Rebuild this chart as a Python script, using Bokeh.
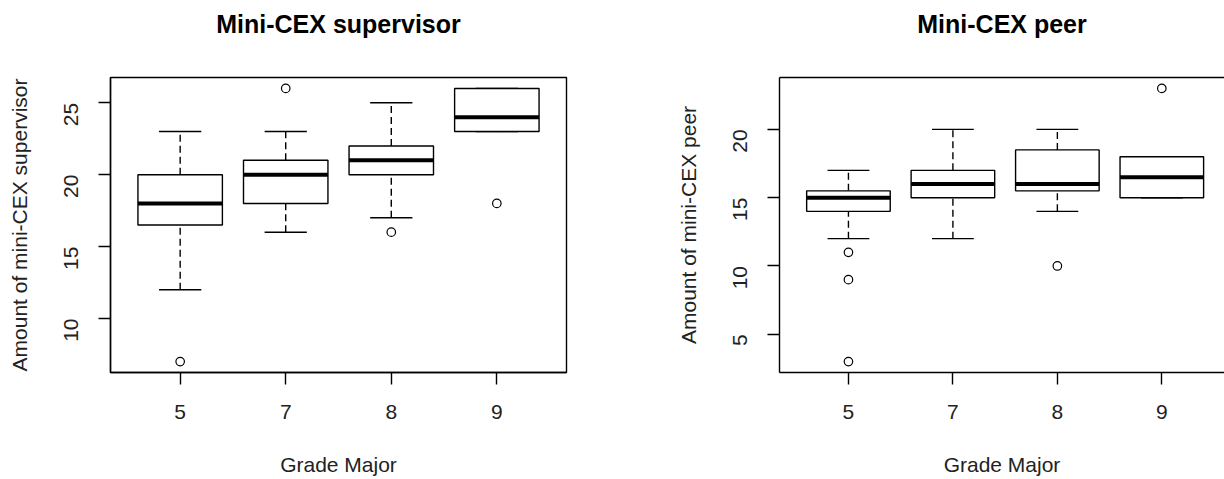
import math
from bokeh.plotting import figure
from bokeh.layouts import row
from bokeh.models import Range1d, FixedTicker, LinearAxis, ColumnDataSource
from bokeh.embed import file_html
from bokeh.resources import INLINE

# ---- data ----
grades = ["5", "7", "8", "9"]

sup_lo = [12, 16, 17, 23]
sup_q1 = [16.5, 18, 20, 23]
sup_med = [18, 20, 21, 24]
sup_q3 = [20, 21, 22, 26]
sup_hi = [23, 23, 25, 26]
sup_out_grade = ["5", "7", "8", "9"]
sup_out_val = [7, 26, 16, 18]

peer_lo = [12, 12, 14, 15]
peer_q1 = [14, 15, 15.5, 15]
peer_med = [15, 16, 16, 16.5]
peer_q3 = [15.5, 17, 18.5, 18]
peer_hi = [17, 20, 20, 18]
peer_out_grade = ["5", "5", "5", "8", "9"]
peer_out_val = [11, 9, 3, 10, 23]

sup_ticks = [10, 15, 20, 25]
peer_ticks = [5, 10, 15, 20]

FONT = "Liberation Sans"
BOXW = 0.8
CAPW = 0.4
LW = 1.4


def style_axis(ax, labels_vertical=False):
    ax.major_tick_out = 12
    ax.major_tick_in = 0
    ax.minor_tick_out = 0
    ax.minor_tick_in = 0
    ax.major_tick_line_color = "black"
    ax.major_tick_line_width = LW
    ax.axis_line_color = "black"
    ax.axis_line_width = LW
    ax.major_label_text_font = FONT
    ax.major_label_text_font_size = "21px"
    ax.major_label_text_color = "#222222"
    ax.axis_label_text_font = FONT
    ax.axis_label_text_font_size = "21px"
    ax.axis_label_text_font_style = "normal"
    ax.axis_label_text_color = "#222222"
    if labels_vertical:
        ax.major_label_orientation = math.pi / 2


def make_panel(title, ylabel, lo, q1, med, q3, hi, og, ov, ticks, yr, xr_end,
               width, border_top, border_bottom, border_right, full_outline, gap):
    n = len(grades)
    xpos = list(range(1, n + 1))
    gi = {g: i + 1 for i, g in enumerate(grades)}
    p = figure(width=width, height=479, output_backend="svg", toolbar_location=None,
               x_range=Range1d(0.34, xr_end), y_range=Range1d(*yr),
               min_border_left=110 if full_outline else 102, min_border_right=border_right,
               min_border_top=border_top, min_border_bottom=border_bottom,
               x_axis_location=None, y_axis_location=None)
    p.grid.visible = False
    p.background_fill_color = "white"
    p.border_fill_color = "white"
    if full_outline:
        p.outline_line_color = "black"
        p.outline_line_width = LW
    else:
        p.outline_line_color = None

    p.title.text = title
    p.title.align = "center"
    p.title.text_font = FONT
    p.title.text_font_size = "25px"
    p.title.text_font_style = "bold"
    p.title.text_color = "black"
    p.title.standoff = 0

    xa = LinearAxis(ticker=FixedTicker(ticks=xpos),
                    major_label_overrides={i + 1: g for i, g in enumerate(grades)},
                    axis_label="Grade Major")
    style_axis(xa)
    xa.major_label_standoff = 20
    xa.axis_label_standoff = 31
    p.add_layout(xa, "below")

    ya = LinearAxis(ticker=FixedTicker(ticks=ticks), axis_label=ylabel)
    style_axis(ya, labels_vertical=True)
    ya.major_label_standoff = 27
    ya.axis_label_standoff = 24
    p.add_layout(ya, "left")

    # top edge of the frame (and spacing under the title)
    ta = LinearAxis(ticker=FixedTicker(ticks=[]))
    ta.major_label_text_font_size = "0px"
    ta.major_tick_out = 0
    ta.major_tick_in = 0
    ta.minor_tick_out = 0
    ta.minor_tick_in = 0
    ta.major_tick_line_color = None
    ta.axis_line_color = None if full_outline else "black"
    ta.axis_line_width = LW
    ta.major_label_standoff = 0
    ta.axis_label = " "
    ta.axis_label_text_font_size = "1px"
    ta.axis_label_standoff = gap
    p.add_layout(ta, "above")

    src = ColumnDataSource(dict(
        x=xpos, lo=lo, q1=q1, med=med, q3=q3, hi=hi,
        xl=[x - BOXW / 2 for x in xpos], xr=[x + BOXW / 2 for x in xpos],
        cl=[x - CAPW / 2 for x in xpos], cr=[x + CAPW / 2 for x in xpos],
    ))
    # whiskers (dashed)
    p.segment(x0="x", y0="q3", x1="x", y1="hi", source=src, line_color="black",
              line_width=LW, line_dash="7 4")
    p.segment(x0="x", y0="lo", x1="x", y1="q1", source=src, line_color="black",
              line_width=LW, line_dash="7 4")
    # caps
    p.segment(x0="cl", y0="hi", x1="cr", y1="hi", source=src, line_color="black", line_width=LW)
    p.segment(x0="cl", y0="lo", x1="cr", y1="lo", source=src, line_color="black", line_width=LW)
    # boxes
    p.vbar(x="x", width=BOXW, bottom="q1", top="q3", source=src, fill_color="white",
           line_color="black", line_width=LW)
    # medians
    p.segment(x0="xl", y0="med", x1="xr", y1="med", source=src, line_color="black",
              line_width=4)
    # outliers
    p.scatter(x=[gi[g] for g in og], y=ov, marker="circle", size=8.5,
              fill_color=None, line_color="black", line_width=1.2)
    return p


p1 = make_panel("Mini-CEX supervisor", "Amount of mini-CEX supervisor",
                sup_lo, sup_q1, sup_med, sup_q3, sup_hi, sup_out_grade, sup_out_val,
                sup_ticks, (6.24, 26.76), 4.66, 673, 77, 104, 107, True, 36)
p2 = make_panel("Mini-CEX peer", "Amount of mini-CEX peer",
                peer_lo, peer_q1, peer_med, peer_q3, peer_hi, peer_out_grade, peer_out_val,
                peer_ticks, (2.2, 23.8), 4.60, 551, 75, 107, 0, False, 36)

layout = row(p1, p2)
open("out.html", "w").write(file_html(layout, INLINE))
